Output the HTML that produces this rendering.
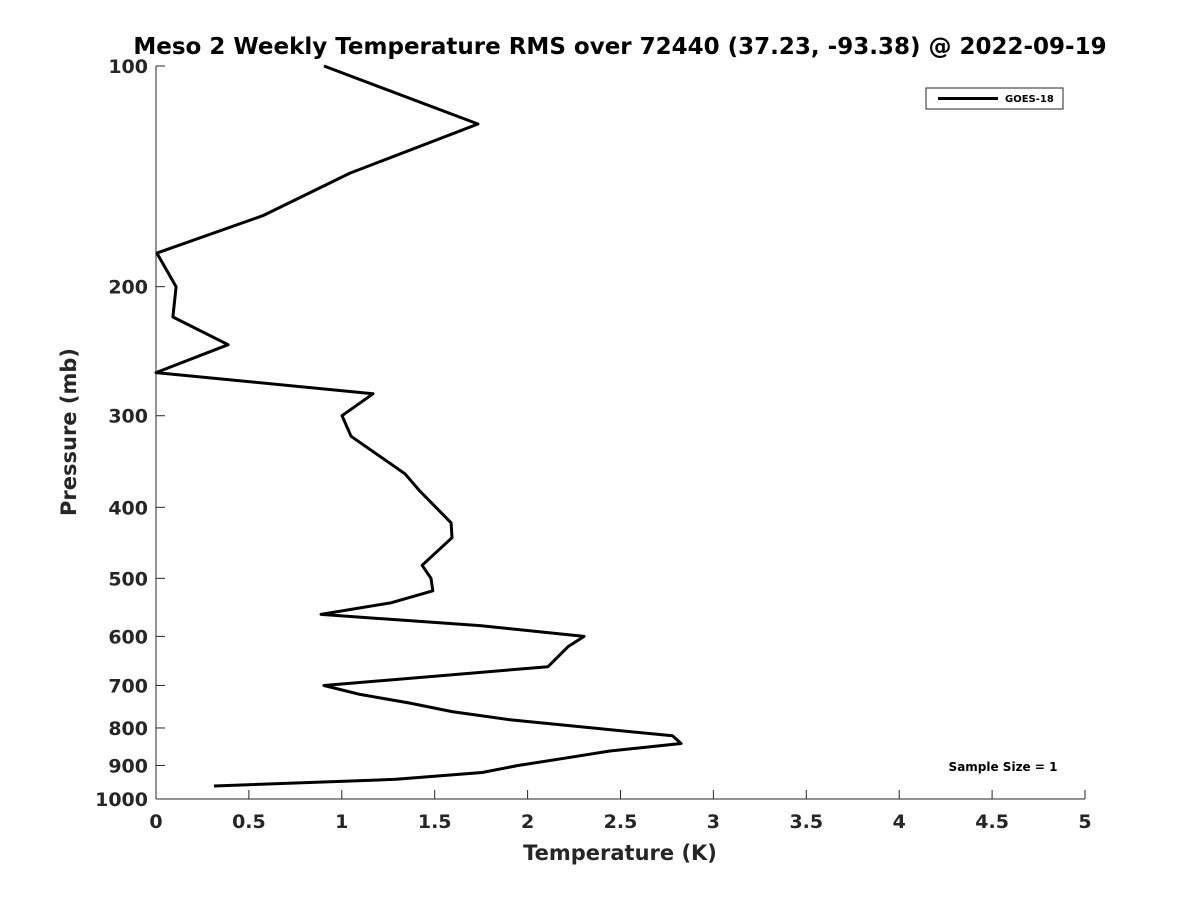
<!DOCTYPE html>
<html><head><meta charset="utf-8"><style>
body{margin:0;background:#fff;}
svg text{font-family:"DejaVu Sans","Liberation Sans",sans-serif;font-weight:bold;fill:#262626;}
</style></head><body>
<svg id="chart" width="1200" height="900" viewBox="0 0 1200 900" xmlns="http://www.w3.org/2000/svg">
<rect width="1200" height="900" fill="#fff"/>
<text x="620" y="54" text-anchor="middle" font-size="23" style="fill:#000">Meso 2 Weekly Temperature RMS over 72440 (37.23, -93.38) @ 2022-09-19</text>
<g id="axes"></g>
<polyline id="series" fill="none" stroke="#000" stroke-width="3" stroke-linejoin="round"/>
<g>
<rect x="926" y="88" width="137" height="21" fill="#fff" stroke="#262626" stroke-width="1"/>
<line x1="938" y1="98.5" x2="998" y2="98.5" stroke="#000" stroke-width="3"/>
<text x="1005" y="102" font-size="10" style="fill:#000">GOES-18</text>
</g>
<text x="1003" y="771" text-anchor="middle" font-size="12" style="fill:#000">Sample Size = 1</text>
<text x="620" y="860" text-anchor="middle" font-size="21">Temperature (K)</text>
<text transform="translate(76,432) rotate(-90)" text-anchor="middle" font-size="21">Pressure (mb)</text>
</svg>
<script>
const xTicks=[0,0.5,1,1.5,2,2.5,3,3.5,4,4.5,5];
const yTicks=[100,200,300,400,500,600,700,800,900,1000];
const temps=[0.904,1.733,1.044,0.576,0.005,0.108,0.091,0.388,0.0,1.168,1.001,1.05,1.34,1.42,1.588,1.593,1.432,1.48,1.49,1.265,0.888,1.744,2.304,2.217,2.11,0.904,1.098,1.367,1.593,1.911,2.78,2.826,2.443,2.196,1.948,1.755,1.292,0.312];
const pressures=[100,120,140,160,180,200,220,240,262,280,300,320,360,380,420,440,480,500,520,540,560,580,600,620,660,700,720,740,760,780,820,840,860,880,900,920,940,960];
const L=156,R=1085,T=66,B=799;
function xs(v){return L+(v-0)/(5-0)*(R-L);}
function ys(p){return T+(Math.log10(p)-2)/(3-2)*(B-T);}
const NS="http://www.w3.org/2000/svg";
const ax=document.getElementById('axes');
function mk(tag,attrs){const e=document.createElementNS(NS,tag);for(const k in attrs)e.setAttribute(k,attrs[k]);return e;}
const la=mk('line',{x1:L,y1:T,x2:L,y2:B,stroke:'#262626','stroke-width':1});


ax.appendChild(la);
const ba=mk('line',{x1:L,y1:B,x2:R,y2:B,stroke:'#262626','stroke-width':1});


ax.appendChild(ba);
xTicks.forEach(t=>{
  const x=xs(t);
  const tk=mk('line',{x1:x,y1:B,x2:x,y2:B-9,stroke:'#262626','stroke-width':1});
  
  
  ax.appendChild(tk);
  const tx=mk('text',{x:x,y:B+29,'text-anchor':'middle','font-size':19});
  
  
  tx.textContent=String(t);
  ax.appendChild(tx);
});
yTicks.forEach(t=>{
  const y=ys(t);
  const tk=mk('line',{x1:L,y1:y,x2:L+9,y2:y,stroke:'#262626','stroke-width':1});
  
  
  ax.appendChild(tk);
  const tx=mk('text',{x:L-8,y:y+7,'text-anchor':'end','font-size':19});
  
  
  tx.textContent=String(t);
  ax.appendChild(tx);
});
document.getElementById('series').setAttribute('points',temps.map((v,i)=>xs(v).toFixed(1)+','+ys(pressures[i]).toFixed(1)).join(' '));
</script>
</body></html>
